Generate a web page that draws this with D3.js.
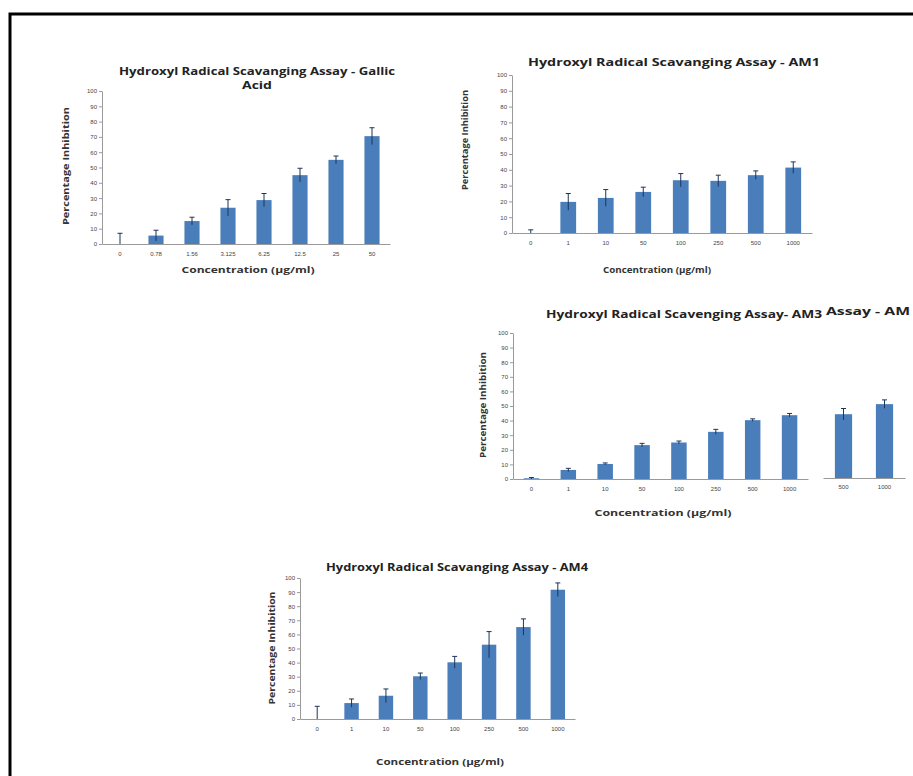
<!DOCTYPE html>
<html>
<head>
<meta charset="utf-8">
<script src="https://cdn.jsdelivr.net/npm/d3@7"></script>
<style>
  body { margin: 0; background: #fff; }
  svg { display: block; font-family: 'Open Sans', 'Liberation Sans', sans-serif; }
  .tick-label { font-size: 6px; fill: #444; }
  .axis-title { font-size: 9px; font-weight: bold; fill: #333; }
  .title { font-size: 11px; font-weight: bold; fill: #222; }
</style>
</head>
<body>
<div id="figure"></div>
<script>
// values (percentage inhibition, mean and error)
const gallicCategories = ['0', '0.78', '1.56', '3.125', '6.25', '12.5', '25', '50']
const gallicValues = [0, 5.5, 15, 23.7, 28.7, 45, 55, 70.5]
const gallicErrors = [7, 3.5, 2.5, 5.3, 4.3, 4.5, 2.5, 5.5]

const amCategories = ['0', '1', '10', '50', '100', '250', '500', '1000']
const am1Values = [0, 19.7, 22.2, 26, 33.4, 33, 36.6, 41.4]
const am1Errors = [2, 5.3, 5.3, 3, 4.2, 3.6, 2.7, 3.6]
const am3Values = [0.5, 6.2, 10.3, 23.2, 25, 32.3, 40.3, 43.7]
const am3Errors = [0.5, 1.1, 0.7, 1.2, 1, 1.7, 0.9, 1.2]
const am4Values = [0, 11.3, 16.5, 30.3, 40.2, 52.7, 65.2, 91.7]
const am4Errors = [9, 2.9, 4.8, 2.3, 4.2, 9.3, 5.8, 4.8]

// only the last two bars of the AM2 chart show behind the AM3 chart
const am2Categories = ['500', '1000']
const am2Values = [43.7, 50.6]
const am2Errors = [3.9, 2.9]

const yTicks = [0, 10, 20, 30, 40, 50, 60, 70, 80, 90, 100]

const width = 913
const height = 776
const barColor = '#4a7ebb'
const errColor = '#1d3557'
const axisColor = '#9a9a9a'

const svg = d3.select('#figure').append('svg')
  .attr('width', width)
  .attr('height', height)

// frame around the figure
svg.append('rect')
  .attr('x', 10)
  .attr('y', 14)
  .attr('width', 1000)
  .attr('height', 1000)
  .attr('fill', 'none')
  .attr('stroke', '#000')
  .attr('stroke-width', 3)

/**
 * Draws one bar chart with error bars.
 *
 * @param {object} cfg Layout of the chart
 * @param {string[]} categories The x categories
 * @param {number[]} values The bar heights
 * @param {number[]} errors The error bar half lengths
 */
function drawChart (cfg, categories, values, errors) {
  const g = svg.append('g')

  const x = d3.scaleBand()
    .domain(categories)
    .range([cfg.x0, cfg.x1])
  const y = d3.scaleLinear()
    .domain([0, 100])
    .range([cfg.y0, cfg.y100])

  const barW = x.step() * 0.42

  // y axis
  if (cfg.yAxis !== false) {
    const yAxis = g.append('g')
      .attr('transform', 'translate(' + cfg.x0 + ',0)')
      .call(d3.axisLeft(y).tickValues(yTicks).tickSize(3).tickSizeOuter(0))
    yAxis.select('.domain').attr('stroke', axisColor)
    yAxis.selectAll('.tick line').attr('stroke', axisColor)
    yAxis.selectAll('.tick text')
      .attr('class', 'tick-label')
      .attr('font-size', null)
      .attr('font-family', null)
      .attr('fill', null)
      .attr('x', -5)
  }

  // x axis
  const xAxis = g.append('g')
    .attr('transform', 'translate(0,' + cfg.y0 + ')')
    .call(d3.axisBottom(x).tickSize(0).tickSizeOuter(0))
  xAxis.select('.domain').attr('stroke', axisColor)
  xAxis.selectAll('.tick text')
    .attr('class', 'tick-label')
    .attr('font-size', null)
    .attr('font-family', null)
    .attr('fill', null)
    .attr('y', cfg.tickGap || 10)
    .attr('dy', '0.35em')

  // bars
  g.selectAll('rect.bar')
    .data(categories)
    .enter()
    .append('rect')
    .attr('class', 'bar')
    .attr('x', (d) => x(d) + (x.step() - barW) / 2)
    .attr('width', barW)
    .attr('y', (d, i) => y(values[i]))
    .attr('height', (d, i) => y(0) - y(values[i]))
    .attr('fill', barColor)

  // error bars
  const err = g.selectAll('g.err')
    .data(categories)
    .enter()
    .append('g')
    .attr('class', 'err')
    .attr('transform', (d) => 'translate(' + (x(d) + x.step() / 2) + ',0)')

  err.append('line')
    .attr('y1', (d, i) => y(Math.max(0, values[i] - errors[i])))
    .attr('y2', (d, i) => y(values[i] + errors[i]))
    .attr('stroke', errColor)
    .attr('stroke-width', 1)

  err.append('line')
    .attr('x1', -2.5)
    .attr('x2', 2.5)
    .attr('y1', (d, i) => y(values[i] + errors[i]))
    .attr('y2', (d, i) => y(values[i] + errors[i]))
    .attr('stroke', errColor)
    .attr('stroke-width', 1)

  // titles
  if (cfg.title) {
    const t = g.append('text')
      .attr('class', 'title')
      .attr('text-anchor', cfg.titleAnchor || 'middle')
    cfg.title.forEach((line, i) => {
      t.append('tspan')
        .attr('x', cfg.titleX)
        .attr('y', cfg.titleY + i * 14)
        .attr('textLength', cfg.titleLen[i])
        .attr('lengthAdjust', 'spacingAndGlyphs')
        .text(line)
    })
  }

  if (cfg.xLabel) {
    g.append('text')
      .attr('class', 'axis-title')
      .attr('text-anchor', 'middle')
      .attr('x', cfg.xLabelX)
      .attr('y', cfg.xLabelY)
      .attr('dy', '0.35em')
      .attr('textLength', cfg.xLabelLen)
      .attr('lengthAdjust', 'spacingAndGlyphs')
      .text('Concentration (µg/ml)')
  }

  if (cfg.yLabel) {
    g.append('text')
      .attr('class', 'axis-title')
      .attr('text-anchor', 'middle')
      .attr('transform', 'translate(' + cfg.yLabelX + ',' + cfg.yLabelY + ') rotate(-90)')
      .attr('dy', '0.35em')
      .attr('textLength', cfg.yLabelLen)
      .attr('lengthAdjust', 'spacingAndGlyphs')
      .text('Percentage Inhibition')
  }
}

// AM2 sits underneath AM3, so it goes first
drawChart({
  x0: 823, x1: 905, y0: 478, y100: 332, yAxis: false, tickGap: 9,
  title: ['Assay - AM'], titleAnchor: 'start', titleX: 826, titleY: 315, titleLen: [84]
}, am2Categories, am2Values, am2Errors)

// white sheet of the AM3 chart hides the rest of AM2
svg.append('rect')
  .attr('x', 470)
  .attr('y', 300)
  .attr('width', 352)
  .attr('height', 230)
  .attr('fill', '#fff')

drawChart({
  x0: 102, x1: 390, y0: 244, y100: 91,
  title: ['Hydroxyl Radical Scavanging Assay - Gallic', 'Acid'],
  titleX: 257, titleY: 75, titleLen: [276, 30],
  xLabel: true, xLabelX: 248, xLabelY: 270, xLabelLen: 133,
  yLabel: true, yLabelX: 66, yLabelY: 166, yLabelLen: 118
}, gallicCategories, gallicValues, gallicErrors)

drawChart({
  x0: 512, x1: 812, y0: 233, y100: 75,
  title: ['Hydroxyl Radical Scavanging Assay - AM1'],
  titleX: 674, titleY: 66, titleLen: [292],
  xLabel: true, xLabelX: 657, xLabelY: 270, xLabelLen: 108,
  yLabel: true, yLabelX: 465, yLabelY: 140, yLabelLen: 100
}, amCategories, am1Values, am1Errors)

drawChart({
  x0: 513, x1: 808, y0: 479, y100: 333,
  title: ['Hydroxyl Radical Scavenging Assay- AM3'],
  titleX: 684, titleY: 318, titleLen: [276],
  xLabel: true, xLabelX: 663, xLabelY: 513, xLabelLen: 137,
  yLabel: true, yLabelX: 483, yLabelY: 405, yLabelLen: 106
}, amCategories, am3Values, am3Errors)

drawChart({
  x0: 300, x1: 575, y0: 719, y100: 578,
  title: ['Hydroxyl Radical Scavanging Assay - AM4'],
  titleX: 457, titleY: 571, titleLen: [262],
  xLabel: true, xLabelX: 440, xLabelY: 762, xLabelLen: 128,
  yLabel: true, yLabelX: 272, yLabelY: 648, yLabelLen: 113
}, amCategories, am4Values, am4Errors)
</script>
</body>
</html>
